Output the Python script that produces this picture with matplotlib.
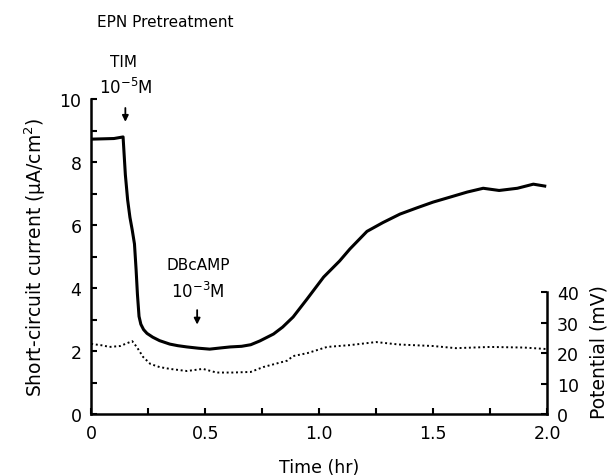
import matplotlib.pyplot as plt
from matplotlib.ticker import MultipleLocator, FixedLocator


# short-circuit current trace (uA/cm2)
time_hr = [0.00, 0.10, 0.14, 0.15, 0.16, 0.17, 0.18, 0.19, 0.197, 0.203,
           0.21, 0.218, 0.23, 0.245, 0.27, 0.30, 0.345, 0.38, 0.42, 0.47,
           0.52, 0.57, 0.61, 0.66, 0.70, 0.74, 0.80, 0.84, 0.886, 0.947,
           1.02, 1.09, 1.135, 1.21, 1.28, 1.355, 1.43, 1.50, 1.58, 1.65,
           1.72, 1.79, 1.87, 1.94, 1.99]
current = [8.73, 8.75, 8.80, 7.60, 6.80, 6.25, 5.85, 5.40, 4.60, 3.80,
           3.10, 2.85, 2.68, 2.56, 2.44, 2.33, 2.22, 2.17, 2.13, 2.09,
           2.06, 2.10, 2.13, 2.15, 2.20, 2.32, 2.54, 2.76, 3.08, 3.65,
           4.35, 4.86, 5.24, 5.80, 6.08, 6.35, 6.55, 6.73, 6.90, 7.05,
           7.17, 7.10, 7.17, 7.30, 7.24]

# transepithelial potential trace (mV)
pot_time = [0.00, 0.05, 0.08, 0.127, 0.18, 0.20, 0.228, 0.26, 0.30, 0.345,
            0.42, 0.49, 0.55, 0.62, 0.70, 0.755, 0.86, 0.886, 0.95, 1.035,
            1.135, 1.25, 1.35, 1.50, 1.60, 1.75, 1.90, 2.00]
potential = [23.0, 22.5, 22.0, 22.3, 23.9, 22.0, 18.7, 16.4, 15.4, 14.8,
             14.1, 14.8, 13.6, 13.6, 13.8, 15.4, 17.5, 19.0, 20.0, 22.0,
             22.6, 23.6, 22.8, 22.3, 21.6, 22.0, 21.8, 21.3]

x_ticks = [0, 0.5, 1.0, 1.5, 2.0]
x_labels = ["0", "0.5", "1.0", "1.5", "2.0"]
mv_ticks = [0, 10, 20, 30, 40]

fig = plt.figure(figsize=(6.16, 4.77), dpi=100)
ax = fig.add_axes([0.148, 0.130, 0.740, 0.660])
ax2 = ax.twinx()

ax.plot(time_hr, current, color="black", lw=2.2, solid_joinstyle="round")
ax2.plot(pot_time, potential, color="black", lw=1.4, ls=(0, (1, 1.4)))

ax.set_xlim(0, 2.0)
ax.set_ylim(0, 10)
ax2.set_ylim(0, 103.3)

for s in ["top", "right"]:
    ax.spines[s].set_visible(False)
for s in ["top", "left", "bottom"]:
    ax2.spines[s].set_visible(False)
ax2.spines["right"].set_bounds(0, 40)
for sp in [ax.spines["left"], ax.spines["bottom"], ax2.spines["right"]]:
    sp.set_linewidth(1.8)

ax.xaxis.set_major_locator(FixedLocator(x_ticks))
ax.set_xticklabels(x_labels)
ax.xaxis.set_minor_locator(MultipleLocator(0.25))
ax.yaxis.set_major_locator(MultipleLocator(2))
ax.yaxis.set_minor_locator(MultipleLocator(1))
ax2.yaxis.set_major_locator(FixedLocator(mv_ticks))

ax.tick_params(which="both", direction="in", width=1.5, length=4,
               labelsize=12.5, pad=7)
ax2.tick_params(direction="in", width=1.5, length=4, labelsize=12.5, pad=7)

ax.set_xlabel("Time (hr)", fontsize=12.5, labelpad=12)
ax.set_ylabel("Short-circuit current (\u03bcA/cm$^2$)", fontsize=13.5, labelpad=8)
ax2.set_ylabel("Potential (mV)", fontsize=13.5, labelpad=8, y=0.2)

fig.text(0.157, 0.952, "EPN Pretreatment", fontsize=11, ha="left", va="center")

# drug additions
ax.annotate("", xy=(0.15, 9.28), xytext=(0.15, 9.72),
            arrowprops=dict(arrowstyle="-|>", color="black", lw=1.3,
                            mutation_scale=9, shrinkA=0, shrinkB=0))
ax.text(0.14, 11.2, "TIM", fontsize=11, ha="center", va="center")
ax.text(0.15, 10.4, "10$^{-5}$M", fontsize=12, ha="center", va="center")

ax.annotate("", xy=(0.465, 2.84), xytext=(0.465, 3.3),
            arrowprops=dict(arrowstyle="-|>", color="black", lw=1.3,
                            mutation_scale=9, shrinkA=0, shrinkB=0))
ax.text(0.47, 4.76, "DBcAMP", fontsize=11, ha="center", va="center")
ax.text(0.47, 3.9, "10$^{-3}$M", fontsize=12, ha="center", va="center")

fig.savefig("out.png", dpi=100)
